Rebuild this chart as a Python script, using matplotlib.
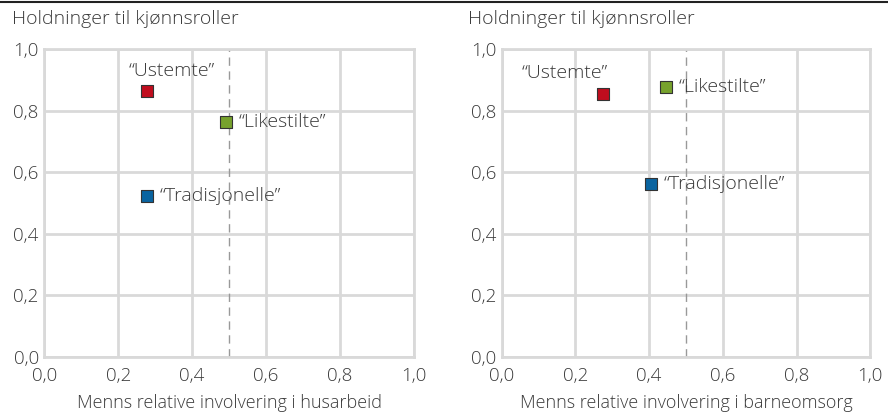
import matplotlib.pyplot as plt
from matplotlib.lines import Line2D

plt.rcParams['font.family'] = ['Open Sans', 'DejaVu Sans']

# Data
groups = ['“Ustemte”', '“Likestilte”', '“Tradisjonelle”']
colors = ['#c00d1e', '#77a22d', '#0a64a0']
house_x = [0.277, 0.491, 0.277]
house_y = [0.864, 0.763, 0.523]
child_x = [0.274, 0.446, 0.405]
child_y = [0.854, 0.877, 0.562]

ticks = [0.0, 0.2, 0.4, 0.6, 0.8, 1.0]
tick_labels = ['0,0', '0,2', '0,4', '0,6', '0,8', '1,0']

FS = 13.5
TXT = '#3a3a3a'

fig = plt.figure(figsize=(8.88, 4.12), dpi=100)
ax1 = fig.add_axes([0.050, 0.1335, 0.416, 0.7475])
ax2 = fig.add_axes([0.565, 0.1335, 0.415, 0.7475])

# label offsets in points (dx, dy, ha)
offsets_left = [(18, 14, 'center'), (9, 0, 'left'), (9, 0, 'left')]
offsets_right = [(-27, 15, 'center'), (9, 0, 'left'), (9, 0, 'left')]


def draw_panel(ax, xs, ys, xlabel, offsets):
    ax.set_xlim(0, 1)
    ax.set_ylim(0, 1)
    ax.set_xticks(ticks)
    ax.set_yticks(ticks)
    ax.set_xticklabels(tick_labels, fontweight='light')
    ax.set_yticklabels(tick_labels, fontweight='light')
    ax.tick_params(length=0, labelsize=FS, colors=TXT)
    ax.tick_params(axis='x', pad=7)
    ax.tick_params(axis='y', pad=4)
    ax.grid(True, color='#d9d9d9', linewidth=2)
    for s in ax.spines.values():
        s.set_color('#d9d9d9')
        s.set_linewidth(2)
    ax.axvline(0.5, color='#999999', linewidth=1, linestyle=(0, (6, 4)), zorder=2)
    for name, c, x, y, off in zip(groups, colors, xs, ys, offsets):
        ax.scatter([x], [y], marker='s', s=85, color=c, edgecolor='#333333',
                   linewidth=0.8, zorder=3)
        ax.annotate(name, (x, y), xytext=(off[0], off[1]), textcoords='offset points',
                    ha=off[2], va='center', fontsize=14, fontweight='light',
                    color=TXT, zorder=4)
    ax.set_xlabel(xlabel, fontsize=13, fontweight='light', color=TXT, labelpad=7)


draw_panel(ax1, house_x, house_y, 'Menns relative involvering i husarbeid', offsets_left)
draw_panel(ax2, child_x, child_y, 'Menns relative involvering i barneomsorg', offsets_right)

fig.text(12 / 888, 1 - 19 / 412, 'Holdninger til kjønnsroller', fontsize=14,
         fontweight='light', color=TXT, va='center', ha='left')
fig.text(468 / 888, 1 - 19 / 412, 'Holdninger til kjønnsroller', fontsize=14,
         fontweight='light', color=TXT, va='center', ha='left')

fig.add_artist(Line2D([0, 1], [1 - 2 / 412, 1 - 2 / 412], color='#222222',
                      linewidth=1.5, transform=fig.transFigure))

fig.savefig('out.png', dpi=100)
